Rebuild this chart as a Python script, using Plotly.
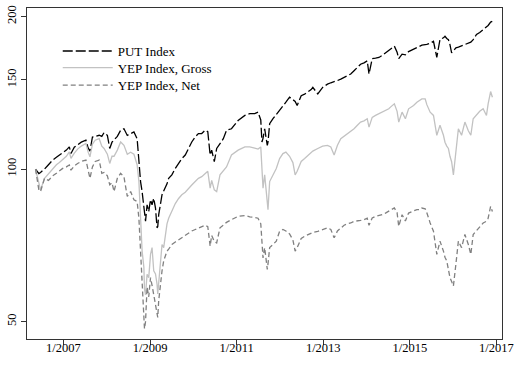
import plotly.graph_objects as go

dates = [
    "2006-05-11", "2006-06-08", "2006-06-22", "2006-07-26", "2006-08-28", "2006-10-03", "2006-11-03", "2006-11-28", "2006-12-26", "2007-01-26",
    "2007-02-20", "2007-03-06", "2007-04-03", "2007-05-01", "2007-06-01", "2007-07-10", "2007-07-29", "2007-08-13", "2007-09-03", "2007-09-26",
    "2007-10-30", "2007-11-21", "2007-12-10", "2008-01-07", "2008-01-27", "2008-02-15", "2008-03-03", "2008-03-31", "2008-04-28", "2008-05-26",
    "2008-06-23", "2008-07-21", "2008-08-18", "2008-09-14", "2008-09-29", "2008-10-13", "2008-10-26", "2008-11-10", "2008-11-15", "2008-11-24",
    "2008-12-07", "2008-12-21", "2009-01-05", "2009-01-18", "2009-02-01", "2009-02-16", "2009-03-01", "2009-03-07", "2009-03-15", "2009-03-29",
    "2009-04-12", "2009-04-26", "2009-05-10", "2009-05-24", "2009-06-07", "2009-07-04", "2009-08-02", "2009-08-30", "2009-09-26", "2009-10-25",
    "2009-11-22", "2009-12-19", "2010-01-17", "2010-02-13", "2010-03-13", "2010-04-11", "2010-05-03", "2010-05-23", "2010-06-05", "2010-06-27",
    "2010-07-17", "2010-08-14", "2010-09-11", "2010-10-08", "2010-11-19", "2011-01-14", "2011-03-12", "2011-04-22", "2011-06-03", "2011-07-01",
    "2011-07-24", "2011-08-03", "2011-08-12", "2011-08-26", "2011-09-17", "2011-09-23", "2011-10-07", "2011-11-04", "2011-12-02", "2011-12-30",
    "2012-01-27", "2012-02-21", "2012-03-23", "2012-04-20", "2012-05-09", "2012-05-26", "2012-06-15", "2012-06-29", "2012-07-28", "2012-08-24",
    "2012-09-21", "2012-10-05", "2012-11-16", "2012-12-27", "2013-02-06", "2013-03-06", "2013-04-03", "2013-05-01", "2013-05-29", "2013-06-26",
    "2013-07-24", "2013-08-21", "2013-09-18", "2013-10-16", "2013-11-12", "2013-12-11", "2014-01-07", "2014-01-22", "2014-02-18", "2014-03-18",
    "2014-04-16", "2014-05-13", "2014-06-10", "2014-07-08", "2014-07-22", "2014-08-24", "2014-09-16", "2014-09-30", "2014-10-28", "2014-11-25",
    "2014-12-22", "2015-02-02", "2015-03-02", "2015-03-30", "2015-04-13", "2015-05-11", "2015-05-25", "2015-06-22", "2015-07-20", "2015-08-17",
    "2015-09-03", "2015-09-13", "2015-10-12", "2015-10-25", "2015-11-09", "2015-11-23", "2015-12-06", "2015-12-20", "2016-01-04", "2016-01-25",
    "2016-02-15", "2016-03-13", "2016-04-10", "2016-05-09", "2016-05-30", "2016-06-19", "2016-07-17", "2016-08-13", "2016-09-11", "2016-10-09",
    "2016-10-23", "2016-11-13", "2016-11-28",
]

put_index = [
    100, 98, 98.5, 100, 102, 104.2, 105.5, 106.5, 107.8, 109,
    110.6, 107.3, 110.5, 111.8, 113, 114, 110, 108.5, 115.7, 116,
    116.6, 116, 118, 116.6, 109.8, 113, 114, 116, 119.3, 120.1,
    116.5, 117.5, 118.4, 114.8, 103.4, 94.5, 90.3, 83.8, 81, 78.9,
    85, 82.5, 87, 85, 87.6, 83.8, 76.6, 77, 81.3, 85,
    89, 90.5, 91.7, 93.5, 95.9, 97.4, 100.3, 102.6, 104.9, 106.6,
    109.8, 113.1, 115.7, 117.5, 117.5, 119.3, 118.5, 106.6, 109, 103.4,
    109.8, 112.3, 114.8, 119.3, 120.1, 124.7, 127.6, 128.6, 128.6, 129.5,
    125, 113.1, 115, 120.1, 111.4, 113, 122.9, 125.7, 128, 130.5,
    133, 135.5, 138.6, 137, 136, 133.5, 137, 139.6, 140.5, 141.7,
    143.5, 144.9, 140.7, 144.9, 147.1, 148, 148.5, 149.5, 150.5, 151.6,
    152.5, 154, 156.3, 158.5, 161, 162, 163.5, 154, 165.1, 165.5,
    166, 167.5, 169.6, 171, 172.2, 174.8, 170, 165.1, 168.5, 168,
    170.5, 172.2, 173.5, 174.8, 175.5, 176, 176.1, 177, 178.7, 166.1,
    175, 180.2, 181.5, 182.8, 181, 180, 176, 169.6, 171, 173.5,
    174, 175, 176.1, 177, 178, 180, 184.3, 186, 188.7, 191,
    192, 195, 195.6,
]

yep_gross = [
    100, 93, 91, 95.9, 98, 100.3, 102, 103, 104.2, 106,
    108.1, 105, 107.5, 109.5, 111, 112.3, 108, 105.7, 112, 114,
    114.8, 111, 109.8, 107, 102.6, 106, 106, 109, 113.1, 111.4,
    107, 108, 107, 102, 94.5, 80, 69, 64, 58, 56.5,
    62, 61.1, 67.9, 70, 63, 62.1, 59.3, 56.7, 60, 64.9,
    71, 70, 75, 78, 80, 82.5, 85.5, 87.5, 89, 90,
    91.7, 93, 94.5, 95.9, 96.6, 98.1, 99, 91.7, 95, 91,
    90.3, 97.4, 99, 101, 106.6, 109, 110.6, 110.6, 110, 109.5,
    110.6, 100, 91.7, 97.4, 86, 83.2, 94.5, 97.4, 100.3, 104.9,
    107.3, 108, 106, 103, 97.4, 99, 101.9, 103.5, 104.9, 106.5,
    108.1, 108.5, 109.8, 111, 111.4, 110.6, 106.6, 111.4, 114.8, 116,
    117.5, 118.5, 120.1, 122, 123.8, 124.5, 125.7, 121, 126.5, 127.6,
    128.5, 129.5, 130.5, 131.5, 132.5, 134.5, 130, 123.8, 129.5, 125.7,
    131.5, 133.5, 135.5, 136.6, 137.5, 137.5, 134, 129.5, 127.6, 116.6,
    121, 122, 116.6, 113, 111, 109.8, 106, 103.4, 97.4, 108.1,
    120.1, 116.6, 123.8, 119, 116.6, 125.7, 128, 130, 131.5, 127.6,
    134.5, 142.2, 138.6,
]

yep_net = [
    100, 91, 90.3, 95.9, 95, 97, 98.1, 99, 100.3, 101,
    101.9, 99.5, 101.5, 102.6, 103.5, 104.2, 100, 95.9, 101, 103.5,
    104.2, 98.1, 98.5, 97, 93.1, 94, 90.3, 95.9, 98.1, 96.5,
    88.3, 90.3, 87, 86.3, 80, 70, 60.2, 53, 48.4, 50,
    58.5, 56, 61.1, 59, 56.7, 54, 51.8, 51, 55, 59.3,
    63, 65.9, 67.5, 68.9, 69.5, 71, 71.8, 72.5, 73.2, 74,
    74.9, 75.5, 76, 76.5, 77.1, 77.5, 77, 70.5, 74, 72,
    71.5, 76.6, 77.5, 78.5, 79.5, 80.7, 81, 80.5, 80.3, 80,
    78, 71, 66.8, 70, 63.4, 65, 70, 71, 72.1, 75.4,
    76, 75.5, 74.5, 72.5, 68.9, 70, 72.1, 73, 73.7, 74.3,
    74.9, 75, 75.4, 76, 76.6, 76, 73.2, 75.5, 76.6, 77.5,
    78, 78.3, 78.9, 79, 79.2, 79.5, 80, 77.5, 80.1, 80.7,
    81, 81.3, 81.9, 82.5, 83, 83.8, 82, 77.1, 81.3, 79,
    81.9, 82.5, 83.2, 83.2, 83.8, 83.5, 82, 78.3, 75.4, 67.9,
    71, 72.1, 68.9, 67, 65.9, 63.5, 61.1, 60, 58.8, 64.9,
    72.1, 70, 74.3, 71, 67.9, 74.3, 75.5, 77, 78.3, 78.9,
    80, 84.4, 82.5,
]

series_names = ["PUT Index", "YEP Index, Gross", "YEP Index, Net"]

x_tickvals = ["2007-01-01", "2009-01-01", "2011-01-01", "2013-01-01", "2015-01-01", "2017-01-01"]
x_ticktext = ["1/2007", "1/2009", "1/2011", "1/2013", "1/2015", "1/2017"]
y_tickvals = [50, 100, 150, 200]
y_ticktext = ["50", "100", "150", "200"]

FONT = "Liberation Serif, Times New Roman, serif"

fig = go.Figure()
fig.add_trace(go.Scatter(x=dates, y=put_index, name=series_names[0], mode="lines",
                         legend="legend",
                         line=dict(color="#000000", width=1.3, dash="10px,3px")))
fig.add_trace(go.Scatter(x=dates, y=yep_gross, name=series_names[1], mode="lines",
                         legend="legend2",
                         line=dict(color="#c2c2c2", width=1.3)))
fig.add_trace(go.Scatter(x=dates, y=yep_net, name=series_names[2], mode="lines",
                         legend="legend3",
                         line=dict(color="#808080", width=1.3, dash="5px,3px")))

leg_common = dict(x=0.0647, xanchor="left", yanchor="middle", itemwidth=50,
                  bgcolor="rgba(0,0,0,0)", font=dict(family=FONT, size=13))

fig.update_layout(
    width=519, height=366,
    margin=dict(l=27, r=13, t=5, b=27),
    paper_bgcolor="white", plot_bgcolor="white",
    font=dict(family=FONT, size=13, color="#000000"),
    showlegend=True,
    legend=dict(y=0.870, **leg_common),
    legend2=dict(y=0.820, **leg_common),
    legend3=dict(y=0.767, **leg_common),
)
fig.update_xaxes(
    type="date", range=["2006-02-28", "2017-02-17"],
    tickmode="array", tickvals=x_tickvals, ticktext=x_ticktext,
    ticks="outside", ticklen=5, tickcolor="#333", tickwidth=1,
    showline=True, linecolor="#333", linewidth=1, mirror=True,
    showgrid=False, zeroline=False,
    tickfont=dict(family=FONT, size=12.5), ticklabelstandoff=-8,
)
fig.update_yaxes(
    type="log", range=[1.6649, 2.3177],
    tickmode="array", tickvals=y_tickvals, ticktext=y_ticktext,
    ticks="outside", ticklen=5, tickcolor="#333", tickwidth=1,
    showline=True, linecolor="#333", linewidth=1, mirror=True,
    showgrid=False, zeroline=False, tickangle=-90,
    tickfont=dict(family=FONT, size=12.5),
)

fig.write_html("out.html", config={"displayModeBar": False},
               post_script="document.body.style.margin='0';document.body.style.overflow='hidden';")
